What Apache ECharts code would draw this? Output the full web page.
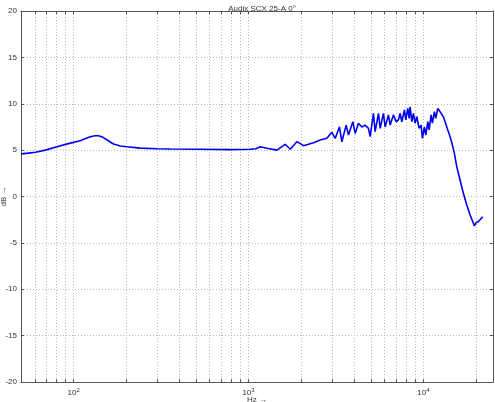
<!DOCTYPE html>
<html>
<head>
<meta charset="utf-8">
<script src="https://cdn.jsdelivr.net/npm/echarts@6/dist/echarts.min.js"></script>
<style>
html,body{margin:0;padding:0;background:#fff;}
#chart{width:495px;height:402px;}
</style>
</head>
<body>
<div id="chart"></div>
<script>
const titleText = 'Audix SCX 25-A 0°';
const xAxisName = 'Hz \u2192';
const yAxisName = 'dB \u2192';

const freqHz = [
  50, 55, 60.4, 68.9, 80.4, 93.3, 109, 121, 128, 133, 138, 142, 148, 154, 161, 169, 185, 202, 240, 300, 357, 530, 786,
  1023, 1100, 1167, 1274, 1453, 1621, 1731, 1891, 2062, 2352, 2569, 2805, 2996, 3130, 3311, 3418, 3617, 3728, 3951,
  4072, 4252, 4446, 4644, 4850, 4960, 5180, 5297, 5533, 5658, 5908, 6042, 6310, 6452, 6738, 6982, 7196, 7360, 7526,
  7788, 7932, 8145, 8285, 8395, 8585, 8769, 8967, 9169, 9450, 9703, 9870, 10132, 10320, 10596, 10779, 11066, 11257,
  11557, 11772, 12085, 12293, 12621, 13010, 13305, 13785, 14210, 14645, 15035, 15520, 16207, 16927, 17700, 18490,
  19307, 19562, 20000, 20625, 21090, 21850
];
const levelDb = [
  4.6, 4.68, 4.77, 5.0, 5.37, 5.7, 6.02, 6.35, 6.5, 6.55, 6.55, 6.5, 6.35, 6.15, 5.9, 5.66, 5.45, 5.37, 5.22, 5.15, 5.12, 5.1, 5.05,
  5.1, 5.15, 5.37, 5.2, 5.0, 5.63, 5.09, 5.91, 5.48, 5.8, 6.09, 6.27, 6.92, 6.27, 7.5, 5.9, 7.7, 6.63, 8.06,
  6.8, 7.9, 7.5, 7.7, 7.35, 6.45, 8.97, 7.0, 8.97, 7.35, 8.97, 7.5, 8.8, 7.7, 8.8, 8.06, 8.25, 8.97, 8.06,
  9.33, 8.25, 9.5, 8.43, 9.68, 8.06, 8.97, 7.9, 8.6, 7.35, 7.7, 6.27, 7.5, 6.63, 8.06, 7.17, 8.8, 7.9,
  9.15, 8.43, 9.5, 9.68, 8.97, 8.6, 8.06, 7.17, 6.45, 5.55, 4.66, 3.2, 1.78, 0.34, -0.92, -2.0,
  -2.89, -3.18, -2.82, -2.7, -2.53, -2.18
];

const xGridValues = [60, 70, 80, 90, 100, 200, 300, 400, 500, 600, 700, 800, 900, 1000,
  2000, 3000, 4000, 5000, 6000, 7000, 8000, 9000, 10000, 20000];
const xLabelValues = [100, 1000, 10000];
const xMin = 50, xMax = 25000;
const yMin = -20, yMax = 20, yStep = 5;

const FONT = 'Liberation Sans, Arial, sans-serif';
const axisGrey = '#555555';
const gridGrey = '#b8b8b8';

const chart = echarts.init(document.getElementById('chart'), null, {renderer: 'canvas'});

function xAxisBase(pos, showLabel) {
  return {
    type: 'log',
    logBase: 10,
    position: pos,
    min: xMin,
    max: xMax,
    axisLine: {show: true, onZero: false, lineStyle: {color: axisGrey, width: 1}},
    axisTick: {show: true, inside: true, length: 3, customValues: xGridValues, lineStyle: {color: axisGrey}},
    splitLine: {show: pos === 'bottom', lineStyle: {color: gridGrey, type: [1, 2], width: 1}},
    minorTick: {show: false},
    axisLabel: showLabel ? {
      show: true,
      customValues: xLabelValues,
      margin: 5,
      formatter: function (v) {
        const e = Math.round(Math.log10(v));
        return '{b|10}{s|' + e + '}';
      },
      rich: {
        b: {fontSize: 8, fontFamily: FONT, color: '#333'},
        s: {fontSize: 6, fontFamily: FONT, color: '#333', verticalAlign: 'bottom', padding: [0, 0, 6, 0]}
      }
    } : {show: false}
  };
}

function yAxisBase(pos, showLabel) {
  return {
    type: 'value',
    position: pos,
    min: yMin,
    max: yMax,
    interval: yStep,
    axisLine: {show: true, onZero: false, lineStyle: {color: axisGrey, width: 1}},
    axisTick: {show: true, inside: true, length: 3, lineStyle: {color: axisGrey}},
    splitLine: {show: pos === 'left', lineStyle: {color: gridGrey, type: [1, 2], width: 1}},
    axisLabel: showLabel ? {show: true, margin: 4, fontSize: 8, fontFamily: FONT, color: '#333'} : {show: false}
  };
}

const xBottom = xAxisBase('bottom', true);
xBottom.name = xAxisName;
xBottom.nameLocation = 'middle';
xBottom.nameGap = 14;
xBottom.nameMoveOverlap = false;
xBottom.nameTextStyle = {fontSize: 8, fontFamily: FONT, color: '#333'};

const yLeft = yAxisBase('left', true);
yLeft.name = yAxisName;
yLeft.nameLocation = 'middle';
yLeft.nameGap = 13;
yLeft.nameRotate = 90;
yLeft.nameMoveOverlap = false;
yLeft.nameTextStyle = {fontSize: 8, fontFamily: FONT, color: '#333'};

const option = {
  animation: false,
  backgroundColor: '#ffffff',
  title: {
    text: titleText,
    left: 257,
    textAlign: 'center',
    top: 0,
    textStyle: {fontSize: 8, fontWeight: 'normal', fontFamily: FONT, color: '#333'}
  },
  grid: {left: 21, top: 11, right: 2, bottom: 20, containLabel: false, outerBoundsMode: 'none'},
  xAxis: [xBottom, xAxisBase('top', false)],
  yAxis: [yLeft, yAxisBase('right', false)],
  series: [{
    type: 'line',
    xAxisIndex: 0,
    yAxisIndex: 0,
    data: freqHz.map((f, i) => [f, levelDb[i]]),
    showSymbol: false,
    symbol: 'none',
    lineStyle: {color: '#0000ee', width: 1.6},
    smooth: false
  }]
};
chart.setOption(option);
</script>
</body>
</html>
